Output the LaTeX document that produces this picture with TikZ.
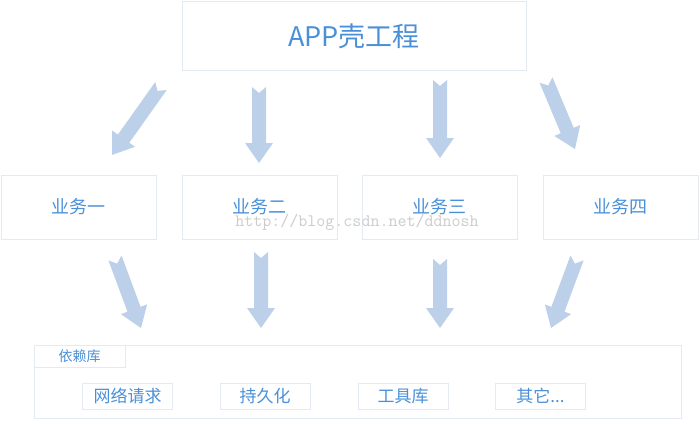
\documentclass[tikz,border=0pt]{standalone}
\usepackage{fontspec}
\setmainfont{Noto Sans CJK SC}
\definecolor{boxline}{RGB}{228,234,244}
\definecolor{labelblue}{RGB}{74,144,217}
\definecolor{arrowblue}{RGB}{189,208,233}
\usetikzlibrary{shapes, arrows.meta, positioning, calc}

\newcommand{\fatarrow}[2]{%
  \fill[arrowblue] let \p1=($(#2)-(#1)$), \n1={atan2(\y1,\x1)}, \n2={veclen(\x1,\y1)} in
    [shift={(#1)}, rotate=\n1]
    (0pt,7pt) -- (\n2-20pt,7pt) -- (\n2-20pt,14pt) -- (\n2+0pt,0pt) -- (\n2-20pt,-14pt)
    -- (\n2-20pt,-7pt) -- (0pt,-7pt) -- (6pt,0pt) -- cycle;}

\begin{document}
\begin{tikzpicture}[x=1pt, y=-1pt,
    box/.style={draw=boxline, line width=1pt, fill=white, text=labelblue, inner sep=0pt},
    appbox/.style={box, minimum width=344pt, minimum height=68pt, font=\fontsize{27}{30}\selectfont},
    bizbox/.style={box, minimum width=155pt, minimum height=64pt, font=\fontsize{18}{22}\selectfont},
    subbox/.style={box, minimum width=90pt, minimum height=26pt, font=\fontsize{17}{20}\selectfont},
    wmark/.style={text=gray!40, font=\ttfamily\fontsize{17.5}{20}\selectfont}]
  \useasboundingbox (0,0) rectangle (700,420);

  \node[appbox] (app) at (354,36) {APP壳工程};

  \node[bizbox] (biz1) at (78.5,207) {业务一};
  \node[bizbox] (biz2) at (259.5,207) {业务二};
  \node[bizbox] (biz3) at (439.5,207) {业务三};
  \node[bizbox] (biz4) at (620.5,207) {业务四};

  \node[wmark] (wm) at (357,222) {http://blog.csdn.net/ddnosh};

  \node[box, minimum width=647pt, minimum height=73pt] (deps) at (357.5,381.5) {};
  \node[box, minimum width=91pt, minimum height=22pt, font=\fontsize{14}{16}\selectfont,
    anchor=north west] (depslabel) at (deps.north west) {依赖库};
  \node[subbox] (net) at (127.5,396) {网络请求};
  \node[subbox] (persist) at (265,396) {持久化};
  \node[subbox] (tools) at (403,396) {工具库};
  \node[subbox] (others) at (540.5,396) {其它...};

  \coordinate (a1s) at (161,86);  \coordinate (a1e) at (112,155);
  \coordinate (a2s) at (259,87);  \coordinate (a2e) at (259,163);
  \coordinate (a3s) at (440,80);  \coordinate (a3e) at (440,158);
  \coordinate (a4s) at (546,80);  \coordinate (a4e) at (575,149);
  \coordinate (b1s) at (115,258); \coordinate (b1e) at (141,328);
  \coordinate (b2s) at (261,252); \coordinate (b2e) at (261,328);
  \coordinate (b3s) at (440,259); \coordinate (b3e) at (440,328);
  \coordinate (b4s) at (577,258); \coordinate (b4e) at (551,328);

  \fatarrow{a1s}{a1e}
  \fatarrow{a2s}{a2e}
  \fatarrow{a3s}{a3e}
  \fatarrow{a4s}{a4e}
  \fatarrow{b1s}{b1e}
  \fatarrow{b2s}{b2e}
  \fatarrow{b3s}{b3e}
  \fatarrow{b4s}{b4e}
\end{tikzpicture}
\end{document}
